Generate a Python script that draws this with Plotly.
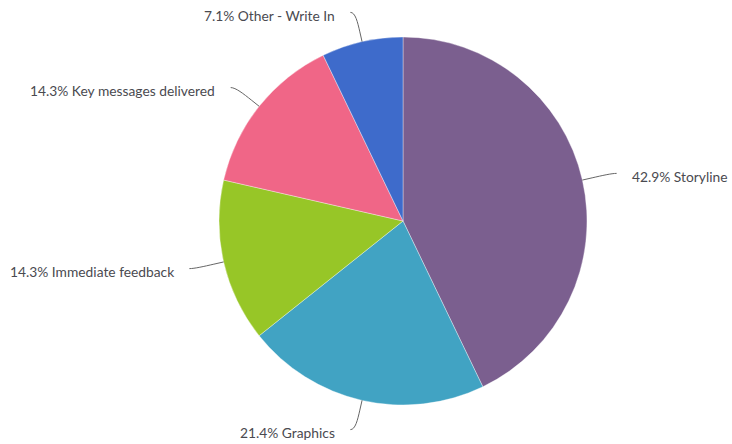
import math
import plotly.graph_objects as go

# Survey responses: which element mattered most
labels = ["Storyline", "Graphics", "Immediate feedback", "Key messages delivered", "Other - Write In"]
counts = [6, 3, 2, 2, 1]
colors = ["#7B5F8F", "#41A3C3", "#97C627", "#F06687", "#3E6BCB"]

W, H = 732, 444
CX, CY, R = 403, 221, 184          # pie centre and radius in pixels
LABEL_DIST = 30                     # label anchor distance outside the rim
BREAK_DIST = 10                     # connector break distance outside the rim

fig = go.Figure()

fig.add_trace(go.Pie(
    labels=labels,
    values=counts,
    sort=False,
    direction="clockwise",
    rotation=0,
    textinfo="none",
    hoverinfo="skip",
    marker=dict(colors=colors, line=dict(color="rgba(255,255,255,0.6)", width=0.6)),
    domain=dict(x=[(CX - R) / W, (CX + R) / W], y=[(H - CY - R) / H, (H - CY + R) / H]),
    showlegend=False,
))

# Invisible pixel-space axes used to place connectors and labels
fig.add_trace(go.Scatter(x=[0, W], y=[0, H], mode="markers",
                         marker=dict(opacity=0), hoverinfo="skip", showlegend=False))

total = sum(counts)
shapes, annotations = [], []
start = 0.0
for lab, c in zip(labels, counts):
    frac = c / total
    mid = (start + frac / 2) * 2 * math.pi   # clockwise from 12 o'clock
    start += frac
    sx, sy = math.sin(mid), -math.cos(mid)
    ex, ey = CX + R * sx, CY + R * sy                      # touches slice
    bx, by = CX + (R + BREAK_DIST) * sx, CY + (R + BREAK_DIST) * sy
    ax, ay = CX + (R + LABEL_DIST) * sx, CY + (R + LABEL_DIST) * sy
    right = sx >= 0
    tx = ax + (5 if right else -5)
    path = (f"M {tx:.2f},{ay:.2f} C {ax:.2f},{ay:.2f} {2*bx-ex:.2f},{2*by-ey:.2f} "
            f"{bx:.2f},{by:.2f} L {ex:.2f},{ey:.2f}")
    shapes.append(dict(type="path", path=path, xref="x", yref="y",
                       line=dict(color="#666666", width=1)))
    annotations.append(dict(
        x=ax + (18.5 if right else -18.5), y=ay + 3, xref="x", yref="y",
        text=f"{100 * frac:.1f}% {lab}", showarrow=False,
        xanchor="left" if right else "right", yanchor="middle",
        font=dict(family="Lato", size=13.8, color="#4a4a50"),
    ))

fig.update_layout(
    width=W, height=H,
    margin=dict(l=0, r=0, t=0, b=0),
    paper_bgcolor="white", plot_bgcolor="rgba(0,0,0,0)",
    xaxis=dict(range=[0, W], visible=False, fixedrange=True, domain=[0, 1]),
    yaxis=dict(range=[H, 0], visible=False, fixedrange=True, domain=[0, 1]),
    shapes=shapes, annotations=annotations,
)

fig.write_html("out.html", config={"displayModeBar": False})
